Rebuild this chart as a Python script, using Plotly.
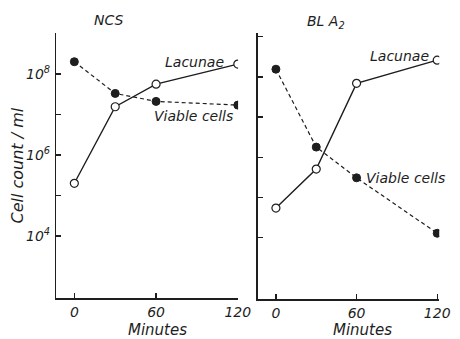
import plotly.graph_objects as go

minutes = [0, 30, 60, 120]
ncs_lacunae = [2.0e5, 1.55e7, 5.6e7, 1.75e8]
ncs_viable = [2.0e8, 3.3e7, 2.1e7, 1.7e7]
bla2_lacunae = [5.5e4, 5.1e5, 6.9e7, 2.6e8]
bla2_viable = [1.55e8, 1.8e6, 3.1e5, 1.3e4]

x_ticks = [0, 60, 120]
x_tick_labels = ["0", "60", "120"]
y_major_ticks = [1e4, 1e6, 1e8]
y_major_labels = ["10<sup>4</sup>", "10<sup>6</sup>", "10<sup>8</sup>"]
y_minor_ticks = [1e5, 1e7, 1e9]

INK = "#1e1e1e"
FONT = dict(family="DejaVu Sans", size=14, color=INK, style="italic")
W, H = 460, 339

def px(x):
    return x / W

def py(y):
    return 1 - y / H

fig = go.Figure()

def add_panel(xa, ya, lac, via):
    fig.add_trace(go.Scatter(x=minutes, y=via, xaxis=xa, yaxis=ya, mode="lines+markers",
                             line=dict(color=INK, width=1.2, dash="4px,3px"),
                             marker=dict(symbol="circle", size=8, color=INK,
                                         line=dict(color=INK, width=1)),
                             showlegend=False, hoverinfo="skip"))
    fig.add_trace(go.Scatter(x=minutes, y=lac, xaxis=xa, yaxis=ya, mode="lines+markers",
                             line=dict(color=INK, width=1.4),
                             marker=dict(symbol="circle", size=8, color="white",
                                         line=dict(color=INK, width=1.2)),
                             showlegend=False, hoverinfo="skip"))

add_panel("x", "y", ncs_lacunae, ncs_viable)
add_panel("x2", "y2", bla2_lacunae, bla2_viable)

common_x = dict(showgrid=False, zeroline=False, showline=True, linecolor=INK, linewidth=1.5,
                ticks="inside", ticklen=5, tickwidth=1.3, tickcolor=INK,
                tickvals=x_ticks, ticktext=x_tick_labels, tickfont=FONT,
                ticklabelstandoff=1)
common_y = dict(type="log", showgrid=False, zeroline=False, showline=True, linecolor=INK,
                linewidth=1.5, ticks="inside", ticklen=5, tickwidth=1.3, tickcolor=INK,
                tickvals=y_major_ticks,
                minor=dict(tickvals=y_minor_ticks, ticks="inside", ticklen=5,
                           tickwidth=1.3, tickcolor=INK, showgrid=False))

fig.update_layout(
    width=W, height=H, margin=dict(l=0, r=0, t=0, b=0),
    paper_bgcolor="white", plot_bgcolor="white",
    xaxis=dict(domain=[px(58), px(245)], range=[-13.2, 120.2], anchor="y", **common_x),
    xaxis2=dict(domain=[px(265), px(452)], range=[-13.7, 121.5], anchor="y2", **common_x),
    yaxis=dict(domain=[py(298), py(33)], range=[2.47, 9.01], anchor="x",
               ticktext=y_major_labels, tickfont=dict(FONT, size=14),
               ticklabelstandoff=2, **common_y),
    yaxis2=dict(domain=[py(299), py(33)], range=[2.48, 9.09], anchor="x2",
                showticklabels=False, **common_y),
)

def label(text, x, y, size=14, xanchor="center", angle=0):
    fig.add_annotation(text=text, x=px(x), y=py(y), xref="paper", yref="paper",
                       showarrow=False, xanchor=xanchor, yanchor="middle",
                       textangle=angle, font=dict(FONT, size=size))

label("NCS", 112, 20)
label("BL A<sub>2</sub>", 335, 22)
label("Lacunae", 200, 62)
label("Viable cells", 199, 116)
label("Lacunae", 411, 56)
label("Viable cells", 417, 178)
label("Minutes", 162, 330, size=15)
label("Minutes", 373, 330, size=15)
label("Cell count / ml", 17, 166, size=16, angle=-90)

fig.write_html("out.html",
               config={"displayModeBar": False, "staticPlot": True},
               post_script="document.body.style.margin='0';document.body.style.overflow='hidden';")
